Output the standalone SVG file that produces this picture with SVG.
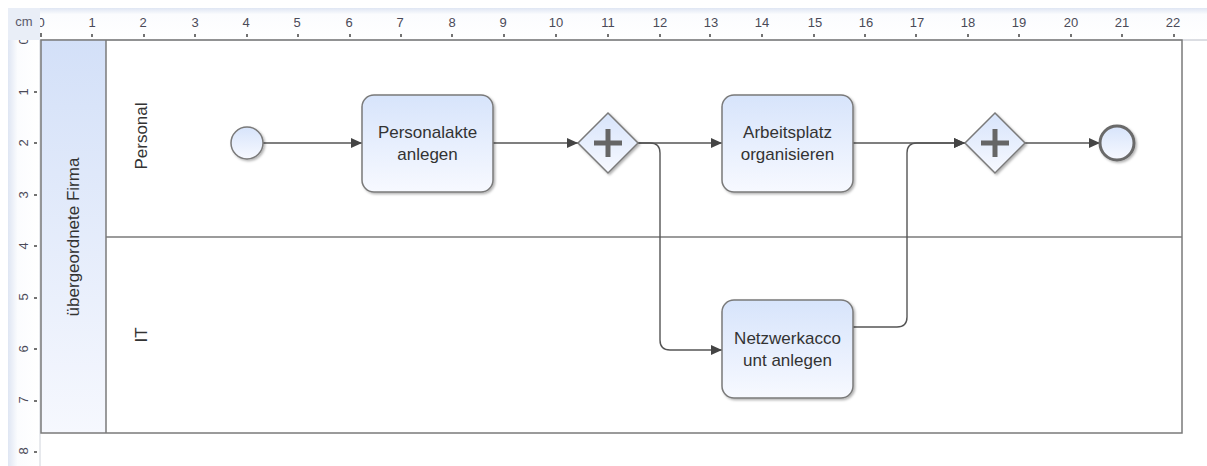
<svg xmlns="http://www.w3.org/2000/svg" width="1207" height="466" viewBox="0 0 1207 466">
<defs>
<style>
.rt{font-family:"Liberation Sans",Arial,sans-serif;font-size:13px;fill:#4a4a58;text-anchor:middle}
.lbl{font-family:"Liberation Sans",Arial,sans-serif;font-size:17px;fill:#333;text-anchor:middle}
.node{stroke:#7a7a7a;stroke-width:1.5;fill:url(#nodeGrad);filter:url(#sh)}
.conn{fill:none;stroke:#555;stroke-width:1.4;marker-end:url(#arr)}
.tick{stroke:#444;stroke-width:1.5}
.plus{stroke:#666;stroke-width:5;stroke-linecap:butt}
</style>
<linearGradient id="nodeGrad" x1="0" y1="0" x2="0" y2="1">
<stop offset="0" stop-color="#d7e4fb"/>
<stop offset="1" stop-color="#f7f9ff"/>
</linearGradient>
<linearGradient id="hdrGrad" x1="0" y1="0" x2="0" y2="1">
<stop offset="0" stop-color="#d3e0f8"/>
<stop offset="1" stop-color="#f6f8fe"/>
</linearGradient>
<linearGradient id="rulerTop" x1="0" y1="0" x2="0" y2="1">
<stop offset="0" stop-color="#dfe6f3"/>
<stop offset="0.2" stop-color="#fbfcfe"/>
<stop offset="1" stop-color="#ffffff"/>
</linearGradient>
<linearGradient id="rulerLeft" x1="0" y1="0" x2="1" y2="0">
<stop offset="0" stop-color="#dfe6f3"/>
<stop offset="0.3" stop-color="#fbfcfe"/>
<stop offset="1" stop-color="#ffffff"/>
</linearGradient>
<filter id="sh" x="-20%" y="-20%" width="150%" height="150%">
<feDropShadow dx="1.5" dy="1.5" stdDeviation="1.2" flood-color="#000" flood-opacity="0.3"/>
</filter>
<marker id="arr" markerUnits="userSpaceOnUse" markerWidth="12" markerHeight="10" refX="11" refY="5" orient="auto">
<path d="M0,0 L11,5 L0,10 Z" fill="#444"/>
</marker>
</defs>
<rect x="0" y="0" width="1207" height="466" fill="#ffffff"/>

<g id="ruler-top">
<rect x="8" y="8" width="1199" height="32" fill="url(#rulerTop)"/>
<line x1="8" y1="40" x2="1207" y2="40" stroke="#b8bcc6" stroke-width="1"/>
<text class="rt" x="41" y="27">0</text>
<text class="rt" x="92" y="27">1</text>
<text class="rt" x="143" y="27">2</text>
<text class="rt" x="195" y="27">3</text>
<text class="rt" x="246" y="27">4</text>
<text class="rt" x="297" y="27">5</text>
<text class="rt" x="349" y="27">6</text>
<text class="rt" x="400" y="27">7</text>
<text class="rt" x="452" y="27">8</text>
<text class="rt" x="503" y="27">9</text>
<text class="rt" x="556" y="27">10</text>
<text class="rt" x="608" y="27">11</text>
<text class="rt" x="660" y="27">12</text>
<text class="rt" x="711" y="27">13</text>
<text class="rt" x="762" y="27">14</text>
<text class="rt" x="815" y="27">15</text>
<text class="rt" x="866" y="27">16</text>
<text class="rt" x="917" y="27">17</text>
<text class="rt" x="968" y="27">18</text>
<text class="rt" x="1019" y="27">19</text>
<text class="rt" x="1071" y="27">20</text>
<text class="rt" x="1122" y="27">21</text>
<text class="rt" x="1173" y="27">22</text>
<g class="tick">
<line x1="41" y1="33" x2="41" y2="37"/><line x1="92" y1="34" x2="92" y2="37"/><line x1="144" y1="34" x2="144" y2="37"/><line x1="195" y1="34" x2="195" y2="37"/><line x1="247" y1="34" x2="247" y2="37"/><line x1="298" y1="34" x2="298" y2="37"/><line x1="350" y1="34" x2="350" y2="37"/><line x1="401" y1="34" x2="401" y2="37"/><line x1="452" y1="34" x2="452" y2="37"/><line x1="504" y1="34" x2="504" y2="37"/><line x1="556" y1="34" x2="556" y2="37"/><line x1="608" y1="34" x2="608" y2="37"/><line x1="660" y1="34" x2="660" y2="37"/><line x1="710" y1="34" x2="710" y2="37"/><line x1="762" y1="34" x2="762" y2="37"/><line x1="814" y1="34" x2="814" y2="37"/><line x1="865" y1="34" x2="865" y2="37"/><line x1="916" y1="34" x2="916" y2="37"/><line x1="968" y1="34" x2="968" y2="37"/><line x1="1019" y1="34" x2="1019" y2="37"/><line x1="1071" y1="34" x2="1071" y2="37"/><line x1="1122" y1="34" x2="1122" y2="37"/><line x1="1174" y1="34" x2="1174" y2="37"/>
</g>
</g>

<g id="ruler-left">
<rect x="8" y="40" width="32" height="426" fill="url(#rulerLeft)"/>
<line x1="40" y1="40" x2="40" y2="466" stroke="#d0d4dc" stroke-width="1"/>
<g class="rt">
<text transform="translate(28,41) rotate(-90)">0</text>
<text transform="translate(28,92) rotate(-90)">1</text>
<text transform="translate(28,143) rotate(-90)">2</text>
<text transform="translate(28,195) rotate(-90)">3</text>
<text transform="translate(28,246) rotate(-90)">4</text>
<text transform="translate(28,297) rotate(-90)">5</text>
<text transform="translate(28,349) rotate(-90)">6</text>
<text transform="translate(28,400) rotate(-90)">7</text>
<text transform="translate(28,451) rotate(-90)">8</text>
</g>
<g class="tick">
<line x1="34" y1="92" x2="37" y2="92"/><line x1="34" y1="143" x2="37" y2="143"/><line x1="34" y1="195" x2="37" y2="195"/><line x1="34" y1="246" x2="37" y2="246"/><line x1="34" y1="298" x2="37" y2="298"/><line x1="34" y1="349" x2="37" y2="349"/><line x1="34" y1="401" x2="37" y2="401"/><line x1="34" y1="452" x2="37" y2="452"/>
</g>
</g>

<g id="ruler-corner">
<rect x="8" y="8" width="32" height="32" fill="#e9eef7"/>
<text x="24" y="26" font-family="'Liberation Sans',Arial,sans-serif" font-size="13" fill="#5a5a6a" text-anchor="middle">cm</text>
</g>

<g id="pool">
<rect x="41" y="40" width="65" height="393" fill="url(#hdrGrad)"/>
<rect x="41" y="40" width="1141" height="393" fill="none" stroke="#7a7a7a" stroke-width="1.5"/>
<line x1="106" y1="40" x2="106" y2="433" stroke="#7a7a7a" stroke-width="1.5"/>
<text class="lbl" transform="translate(79,237) rotate(-90)">übergeordnete Firma</text>
</g>

<g id="lane-personal">
<text class="lbl" transform="translate(147,136) rotate(-90)">Personal</text>
</g>
<g id="lane-it">
<line x1="106" y1="237" x2="1182" y2="237" stroke="#7a7a7a" stroke-width="1.5"/>
<text class="lbl" transform="translate(147,335) rotate(-90)">IT</text>
</g>

<g id="connectors">
<path class="conn" d="M263,143 L362,143"/>
<path class="conn" d="M493,143 L578,143"/>
<path class="conn" d="M638,143 L722,143"/>
<path class="conn" d="M638,143 L650,143 Q660,143 660,153 L660,340 Q660,350 670,350 L722,350"/>
<path class="conn" d="M853,143 L965,143"/>
<path class="conn" d="M853,327 L897,327 Q907,327 907,317 L907,153 Q907,143 917,143 L965,143"/>
<path class="conn" d="M1025,143 L1100,143"/>
</g>

<g id="start">
<circle class="node" cx="247" cy="143" r="16"/>
</g>

<g id="task-personalakte">
<rect class="node" x="362" y="95" width="131" height="97" rx="12"/>
<text class="lbl" x="427.5" y="138">Personalakte</text>
<text class="lbl" x="427.5" y="160">anlegen</text>
</g>

<g id="gateway-split">
<path class="node" d="M608,113 L638,143 L608,173 L578,143 Z"/>
<line class="plus" x1="594" y1="143" x2="622" y2="143"/>
<line class="plus" x1="608" y1="129" x2="608" y2="157"/>
</g>

<g id="task-arbeitsplatz">
<rect class="node" x="722" y="95" width="131" height="97" rx="12"/>
<text class="lbl" x="787.5" y="138">Arbeitsplatz</text>
<text class="lbl" x="787.5" y="160">organisieren</text>
</g>

<g id="task-netzwerk">
<rect class="node" x="722" y="300" width="131" height="98" rx="12"/>
<text class="lbl" x="787.5" y="344">Netzwerkacco</text>
<text class="lbl" x="787.5" y="366">unt anlegen</text>
</g>

<g id="gateway-join">
<path class="node" d="M995,113 L1025,143 L995,173 L965,143 Z"/>
<line class="plus" x1="981" y1="143" x2="1009" y2="143"/>
<line class="plus" x1="995" y1="129" x2="995" y2="157"/>
</g>

<g id="end">
<circle class="node" cx="1117" cy="143" r="17" style="stroke:#6a6a6a;stroke-width:3"/>
</g>
</svg>
